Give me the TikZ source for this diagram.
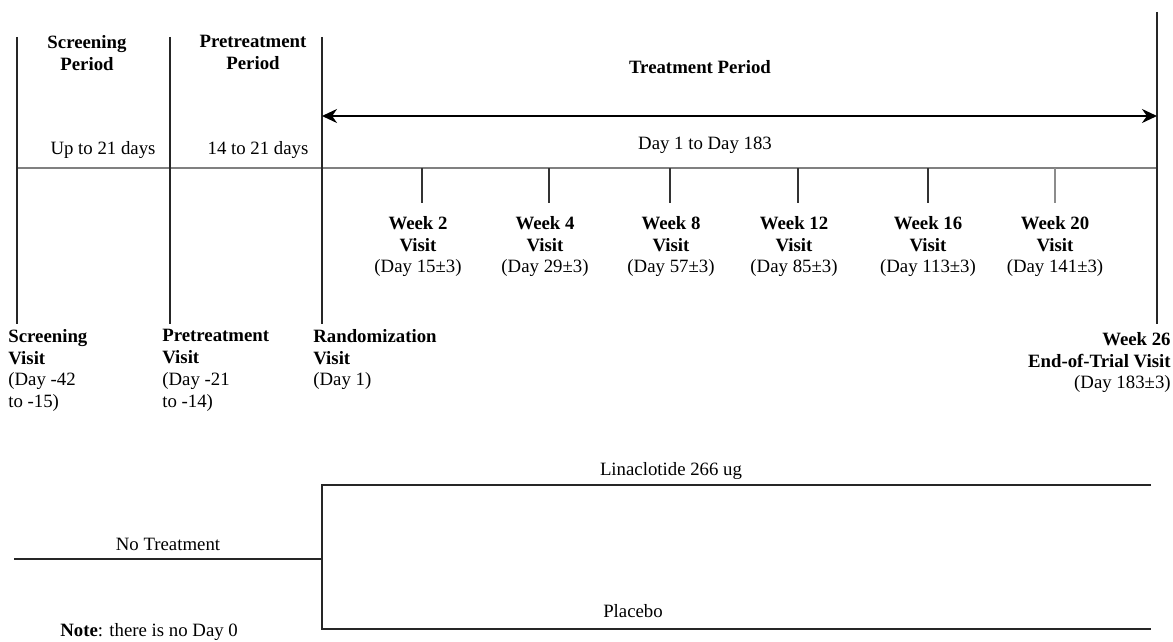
\documentclass[tikz,border=0pt]{standalone}
\usepackage{fontspec}
\setmainfont{Liberation Serif}
\usepackage{tikz}
\usetikzlibrary{arrows.meta,positioning,calc}
\newcommand{\diafont}{\fontsize{10.7}{12.4}\selectfont}
\tikzset{
  headlab/.style={font=\diafont\bfseries, align=center, inner sep=0pt, anchor=north},
  durlab/.style={font=\diafont, inner sep=0pt, anchor=base},
  wklab/.style={font=\diafont, align=center, inner sep=0pt, anchor=north},
  milelab/.style={font=\diafont, align=left, inner sep=0pt, anchor=north west},
  phaseline/.style={draw=black!85, line width=1pt},
  tickline/.style={draw=black!80, line width=0.8pt, shorten >=0.26cm},
  timeline/.style={draw=black!50, line width=1pt},
  spanarr/.style={{Stealth[length=3mm,width=2.8mm]}-{Stealth[length=3mm,width=2.8mm]}, line width=1.2pt},
  armline/.style={draw=black!85, line width=1pt},
}

\begin{document}
\begin{tikzpicture}[x=0.02cm,y=-0.02cm]
\useasboundingbox (0,0) rectangle (1173,642);
\node[headlab] (scrhead) at (87,35) {Screening\\Period};
\node[headlab] (prehead) at (253,35) {Pretreatment\\Period};
\node[font=\diafont\bfseries, inner sep=0pt, anchor=base] (trthead) at (700,74) {Treatment Period};
\node[durlab] (scrdur) at (103,154) {Up to 21 days};
\node[durlab] (predur) at (258,154) {14 to 21 days};
\node[durlab] (trtdur) at (705,150) {Day 1 to Day 183};
\node[wklab] (wk2) at (418,216) {\textbf{Week 2}\\\textbf{Visit}\\(Day 15±3)};
\node[wklab] (wk4) at (545,216) {\textbf{Week 4}\\\textbf{Visit}\\(Day 29±3)};
\node[wklab] (wk8) at (671,216) {\textbf{Week 8}\\\textbf{Visit}\\(Day 57±3)};
\node[wklab] (wk12) at (794,216) {\textbf{Week 12}\\\textbf{Visit}\\(Day 85±3)};
\node[wklab] (wk16) at (928,216) {\textbf{Week 16}\\\textbf{Visit}\\(Day 113±3)};
\node[wklab] (wk20) at (1055,216) {\textbf{Week 20}\\\textbf{Visit}\\(Day 141±3)};
\node[milelab] (scrvis) at (8,329) {\textbf{Screening}\\\textbf{Visit}\\(Day -42\\to -15)};
\node[milelab] (previs) at (162,329) {\textbf{Pretreatment}\\\textbf{Visit}\\(Day -21\\to -14)};
\node[milelab] (randvis) at (313,329) {\textbf{Randomization}\\\textbf{Visit}\\(Day 1)};
\node[font=\diafont, align=right, inner sep=0pt, anchor=north east] (eotvis) at (1171,332)
  {\textbf{Week 26}\\\textbf{End-of-Trial Visit}\\(Day 183±3)};
\coordinate (scrtop) at (17,37);
\coordinate (pretop) at (170,37);
\coordinate (randtop) at (322,37);
\coordinate (eottop) at (1157,12);
\coordinate (tl0) at (17,168);
\coordinate (tl1) at (1157,168);
\coordinate (arrl) at (322,116);
\coordinate (arrr) at (1157,116);
\draw[timeline] (tl0) -- (tl1);
\draw[phaseline, shorten >=0.1cm] (scrtop) -- (scrtop |- scrvis.north);
\draw[phaseline, shorten >=0.1cm] (pretop) -- (pretop |- previs.north);
\draw[phaseline, shorten >=0.1cm] (randtop) -- (randtop |- randvis.north);
\draw[phaseline, shorten >=0.16cm] (eottop) -- (eottop |- eotvis.north);
\draw[spanarr] (arrl) -- (arrr);
\coordinate (t2) at (422,168);
\coordinate (t4) at (549,168);
\coordinate (t8) at (670,168);
\coordinate (t12) at (798,168);
\coordinate (t16) at (928,168);
\coordinate (t20) at (1055,168);
\draw[tickline] (t2) -- (t2 |- wk2.north);
\draw[tickline] (t4) -- (t4 |- wk4.north);
\draw[tickline] (t8) -- (t8 |- wk8.north);
\draw[tickline] (t12) -- (t12 |- wk12.north);
\draw[tickline] (t16) -- (t16 |- wk16.north);
\draw[tickline, draw=black!45] (t20) -- (t20 |- wk20.north);
\node[durlab] (armnone) at (168,550) {No Treatment};
\node[durlab] (armlin) at (671,475) {Linaclotide 266 ug};
\node[durlab] (armpla) at (633,617) {Placebo};
\node[font=\diafont, inner sep=0pt, anchor=base west] (note) at (60,636) {\textbf{Note}: there is no Day 0};
\coordinate (nostart) at (14,559);
\coordinate (split) at (322,559);
\coordinate (lintop) at (322,485);
\coordinate (linend) at (1151,485);
\coordinate (plabot) at (322,629);
\coordinate (plaend) at (1151,629);
\draw[armline] (nostart) -- (split);
\draw[armline] (linend) -- (lintop) -- (plabot) -- (plaend);
\end{tikzpicture}
\end{document}
